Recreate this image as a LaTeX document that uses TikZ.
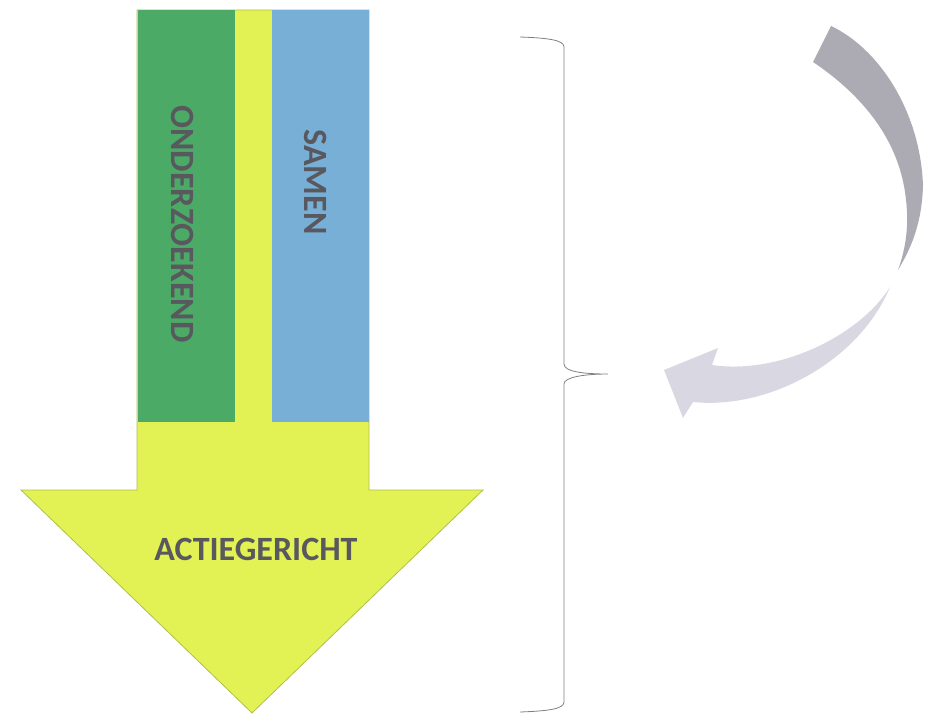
\documentclass[tikz,border=0pt]{standalone}
\usepackage{fontspec}
\setmainfont{Carlito}
\usetikzlibrary{positioning}
\definecolor{leafgreen}{HTML}{4BAA66}
\definecolor{limeyellow}{HTML}{E2F254}
\definecolor{skyblue}{HTML}{78AFD7}
\definecolor{limeedge}{HTML}{B0BF4A}
\definecolor{labelgray}{HTML}{58585E}
\definecolor{loopdark}{HTML}{ACABB3}
\definecolor{looplight}{HTML}{D9D8E2}
\definecolor{bracegray}{HTML}{808080}
\begin{document}
\begin{tikzpicture}[x=1pt,y=-1pt,
    lbl/.style={font=\fontsize{34}{38}\selectfont\bfseries, text=labelgray, inner sep=0pt}]
      \useasboundingbox (0,0) rectangle (928,714);
      % big arrow
      \filldraw[fill=limeyellow, draw=limeedge, line width=0.8pt] (137,10) -- (369,10) -- (369,490) -- (483,490) -- (252,713) -- (21,490) -- (137,490) -- cycle;
      \fill[leafgreen] (137.5,10.5) rectangle (235,422);
      \fill[skyblue] (272,10.5) rectangle (368.5,422);
      % labels
      \node[lbl, rotate=-90] (onderzoekend) at (183,224) {ONDERZOEKEND};
      \node[lbl, rotate=-90] (samen) at (316,182) {SAMEN};
      \node[lbl] (actie) at (256,549) {ACTIEGERICHT};

      % brace
      \coordinate (bracetop) at (520,37);
      \coordinate (bracetip) at (608,374);
      \coordinate (bracebot) at (520,712);
      \draw[bracegray, line width=0.8pt] (bracetop) .. controls (548,38) and (564,40) .. (564,47) -- (564,364)
        .. controls (564,372) and (585,374) .. (bracetip)
        .. controls (585,374) and (564,377) .. (564,384) -- (564,702)
        .. controls (564,709) and (548,711) .. (bracebot);

      % loop arrow
      \fill[loopdark] (831,26) .. controls (878,48) and (920,110) .. (923,185) .. controls (922,225) and (910,250) .. (898,270)
        .. controls (906,248) and (909,225) .. (906,200) .. controls (900,140) and (862,95) .. (813,62) -- cycle;
      \fill[looplight] (890,287) .. controls (860,360) and (770,410) .. (693,402) -- (683,418) -- (664,370) -- (718,348) -- (712,365)
        .. controls (780,375) and (860,335) .. (890,287) -- cycle;
    \end{tikzpicture}
\end{document}
